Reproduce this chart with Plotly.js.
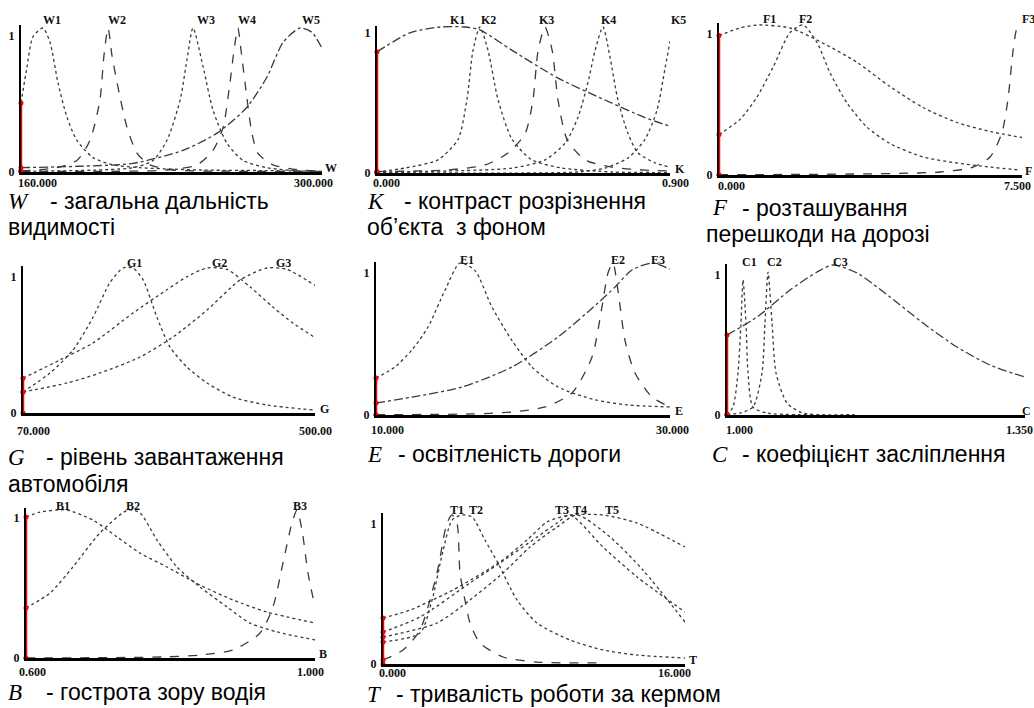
<!DOCTYPE html>
<html><head><meta charset="utf-8">
<script src="https://cdn.plot.ly/plotly-3.0.1.min.js"></script>
<style>html,body{margin:0;padding:0;background:#fff}#chart{width:1034px;height:708px}</style>
</head><body><div id="chart"></div>
<script>
// ---------- DATA ----------
// W - загальна дальність видимості
const W_names = ['W1','W2','W3','W4','W5'];
const W1_x = [160,162.8,165.6,170.2,173.5,177.2,181.4,186,193.5,202.8,215.3,243.3,271.2,300];
const W1_y = [0.48,0.73,0.94,1.0,0.90,0.62,0.38,0.22,0.10,0.05,0.03,0.014,0.01,0.005];
const W2_x = [160,176.7,186,192.1,196.7,198.6,200.5,202.3,204.7,209.3,214,220,230.7,261.9,300];
const W2_y = [0.007,0.03,0.08,0.22,0.5,0.81,1.0,0.81,0.62,0.31,0.13,0.05,0.014,0.005,0.003];
const W3_x = [160,212.1,221.4,227.9,234,237.2,240,244.7,249.3,255.8,263.3,274.4,289.8,300];
const W3_y = [0.005,0.03,0.08,0.22,0.5,0.78,1.0,0.73,0.43,0.2,0.08,0.03,0.007,0.005];
const W4_x = [160,227.9,241.9,249.3,254,257.2,259.1,260.9,262.3,264.2,267.4,270.2,277.2,289.8,300];
const W4_y = [0.005,0.014,0.05,0.15,0.31,0.62,0.85,1.0,0.85,0.62,0.27,0.13,0.05,0.014,0.007];
const W5_x = [160,187.4,212.1,235.3,251.2,265.1,274.4,281.9,289.8,295.3,300];
const W5_y = [0.03,0.04,0.06,0.15,0.27,0.45,0.66,0.9,1.0,0.97,0.86];

// K - контраст розрізнення об'єкта з фоном
const K_names = ['K1','K2','K3','K4','K5'];
const K1_x = [0,0.101,0.194,0.27,0.316,0.415,0.556,0.7,0.823,0.9];
const K1_y = [0.83,0.96,1.0,1.0,0.98,0.84,0.65,0.5,0.38,0.32];
const K2_x = [0,0.086,0.187,0.249,0.276,0.295,0.316,0.341,0.372,0.415,0.476,0.568,0.722,0.9];
const K2_y = [0.007,0.034,0.09,0.23,0.5,0.84,1.0,0.84,0.5,0.23,0.09,0.034,0.007,0.003];
const K3_x = [0,0.209,0.332,0.402,0.455,0.479,0.495,0.516,0.538,0.556,0.584,0.639,0.722,0.823,0.9];
const K3_y = [0.01,0.02,0.055,0.137,0.27,0.5,0.84,1.0,0.84,0.5,0.23,0.09,0.04,0.02,0.014];
const K4_x = [0,0.415,0.516,0.578,0.617,0.648,0.67,0.694,0.716,0.74,0.771,0.802,0.854,0.9];
const K4_y = [0.007,0.034,0.09,0.205,0.38,0.62,0.84,1.0,0.79,0.5,0.27,0.137,0.07,0.04];
const K5_x = [0,0.617,0.7,0.771,0.823,0.86,0.885,0.9,0.91];
const K5_y = [0.003,0.007,0.034,0.103,0.23,0.43,0.72,0.9,1.0];

// F - розташування перешкоди на дорозі
const F_names = ['F1','F2','F3'];
const F1_x = [0,0.52,0.94,1.76,2.57,3.42,4.23,5.05,5.89,6.71,7.5];
const F1_y = [0.93,0.98,1.0,0.98,0.88,0.75,0.59,0.45,0.35,0.29,0.25];
const F2_x = [0,0.52,0.94,1.34,1.76,2.08,2.43,2.75,3.17,3.66,4.23,5.05,5.89,6.71,7.45];
const F2_y = [0.27,0.37,0.52,0.72,0.95,1.0,0.88,0.68,0.48,0.32,0.21,0.12,0.08,0.053,0.033];
const F3_x = [0,5.47,6.29,6.71,7.0,7.15,7.28,7.38,7.5];
const F3_y = [0.002,0.02,0.053,0.12,0.28,0.5,0.83,0.98,1.0];

// G - рівень завантаження автомобіля
const G_names = ['G1','G2','G3'];
const G1_x = [70,109.8,143.6,173.1,198.1,217.3,232,246.7,267.3,286.5,311.5,341,379.2,429.3,500];
const G1_y = [0.145,0.276,0.434,0.66,0.9,1.0,1.0,0.92,0.66,0.455,0.317,0.207,0.11,0.055,0.02];
const G2_x = [70,124.5,173.1,232,282,311.5,341,370.4,404.3,438.2,467.6,500];
const G2_y = [0.24,0.366,0.483,0.69,0.85,0.94,1.0,0.99,0.87,0.73,0.62,0.52];
const G3_x = [70,134.8,183.4,242.3,290.9,341,389.6,429.3,458.8,500];
const G3_y = [0.145,0.207,0.276,0.386,0.524,0.71,0.917,1.0,0.99,0.88];

// E - освітленість дороги
const E_names = ['E1','E2','E3'];
const E1_x = [10,11.29,12.45,13.54,14.69,15.71,16.73,17.89,19.25,20.61,22.38,24.9,27.14,30];
const E1_y = [0.243,0.316,0.428,0.579,0.82,1.0,0.95,0.71,0.49,0.316,0.184,0.1,0.066,0.053];
const E2_x = [10,16.53,19.25,21.5,23.33,24.69,25.37,25.78,26.12,26.46,26.94,27.62,28.78,30];
const E2_y = [0.002,0.007,0.02,0.053,0.145,0.38,0.71,0.934,1.0,0.82,0.49,0.276,0.118,0.053];
const E3_x = [10,12.45,15.85,19.25,22.38,25.1,26.26,27.41,28.78,30];
const E3_y = [0.079,0.118,0.184,0.316,0.513,0.737,0.842,0.954,1.0,0.96];

// C - коефіцієнт засліплення
const C_names = ['C1','C2','C3'];
const C1_x = [1.0,1.007,1.0129,1.0164,1.0188,1.0223,1.0247,1.0305,1.047,1.1];
const C1_y = [0.0,0.053,0.28,0.613,0.9,0.613,0.28,0.053,0.013,0.002];
const C2_x = [1.0,1.0153,1.0305,1.0411,1.0446,1.0482,1.0529,1.0576,1.0705,1.0893,1.15];
const C2_y = [0.005,0.013,0.053,0.28,0.613,0.953,0.613,0.28,0.08,0.013,0.003];
const C3_x = [1.0,1.0352,1.074,1.1057,1.1245,1.1527,1.1914,1.2302,1.2701,1.3089,1.35];
const C3_y = [0.533,0.653,0.833,0.953,1.0,0.947,0.787,0.613,0.453,0.333,0.253];

// B - гострота зору водія
const B_names = ['B1','B2','B3'];
const B1_x = [0.6,0.6194,0.6429,0.6567,0.6927,0.7259,0.7578,0.7951,0.8408,0.8865,0.9335,1.0];
const B1_y = [0.953,0.986,1.0,1.0,0.932,0.818,0.709,0.615,0.493,0.392,0.311,0.236];
const B2_x = [0.6,0.6332,0.665,0.7024,0.7412,0.7578,0.7813,0.809,0.8408,0.8782,0.91,0.9474,1.0];
const B2_y = [0.338,0.439,0.615,0.845,1.0,0.98,0.797,0.615,0.48,0.345,0.236,0.176,0.122];
const B3_x = [0.6,0.7896,0.8408,0.8865,0.9239,0.9418,0.9557,0.9681,0.9751,0.982,0.9903,1.0];
const B3_y = [0.0,0.007,0.02,0.054,0.169,0.345,0.642,0.912,1.0,0.865,0.574,0.345];

// T - тривалість роботи за кермом
const T_names = ['T1','T2','T3','T4','T5'];
const T1_x = [0,1.06,1.96,2.86,3.39,3.66,3.92,4.08,4.34,4.61,5.14,6.36,8.16,11.5];
const T1_y = [0.027,0.094,0.228,0.611,0.946,1.0,0.946,0.611,0.43,0.275,0.141,0.047,0.013,0.007];
const T2_x = [0,1.96,2.6,3.13,3.66,4.19,4.72,5.4,6.09,7.1,8.16,9.91,11.66,13.46,16];
const T2_y = [0.148,0.208,0.43,0.732,0.966,1.0,0.987,0.832,0.678,0.43,0.275,0.161,0.094,0.06,0.04];
const T3_x = [0,1.96,4.61,6.2,8.16,9.22,9.91,11.66,13.46,16];
const T3_y = [0.215,0.315,0.544,0.678,0.852,0.946,1.0,0.785,0.584,0.349];
const T4_x = [0,2.86,4.61,6.36,7.79,9.22,10.28,12.03,13.77,16];
const T4_y = [0.181,0.275,0.43,0.611,0.785,0.919,1.0,0.852,0.631,0.282];
const T5_x = [0,1.43,3.71,6.2,7.63,8.69,9.91,11.66,13.46,16];
const T5_y = [0.309,0.362,0.497,0.685,0.832,0.953,1.0,1.0,0.946,0.785];

// axis extents and tick labels
const W_range = [160,300]; const W_ticks = ['160.000','300.000'];
const K_range = [0,0.9];   const K_ticks = ['0.000','0.900'];
const F_range = [0,7.5];   const F_ticks = ['0.000','7.500'];
const G_range = [70,500];  const G_ticks = ['70.000','500.00'];
const E_range = [10,30];   const E_ticks = ['10.000','30.000'];
const C_range = [1.0,1.35]; const C_ticks = ['1.000','1.350'];
const B_range = [0.6,1.0]; const B_ticks = ['0.600','1.000'];
const T_range = [0,16];    const T_ticks = ['0.000','16.000'];

// ---------- LAYOUT / STYLE ----------
const PW = 1034, PH = 708;
const px2x = p => p / PW, px2y = p => 1 - p / PH;
const CAP_FONT = {family:'Liberation Sans, Arial, sans-serif', size:23, color:'#000'};
const LET_FONT = {family:'Liberation Serif, Times New Roman, serif', size:23, color:'#000'};
const SMALL = {family:'Liberation Serif, serif', size:12, color:'#111'};

const panels = [
 {range:W_range, ticks:W_ticks, names:W_names, axisLetter:'W',
  curves:[[W1_x,W1_y,'dot'],[W2_x,W2_y,'dash'],[W3_x,W3_y,'dot'],[W4_x,W4_y,'dash'],[W5_x,W5_y,'dashdot']],
  labelX:[174.4,204.7,246,265.1,294.9],
  p:{x0:21,x1:322,zero:172,one:28,top:25,oneLbl:36,lblY:20,tickY:183,tickL:17,tickR:334,letX:324},
  cap:{letter:'W',lx:7,tx:49,y:201,text:'- загальна дальність',line2:'видимості',l2x:7,y2:227}},
 {range:K_range, ticks:K_ticks, names:K_names, axisLetter:'K',
  curves:[[K1_x,K1_y,'dashdot'],[K2_x,K2_y,'dot'],[K3_x,K3_y,'dash'],[K4_x,K4_y,'dot'],[K5_x,K5_y,'dot']],
  labelX:[0.246,0.344,0.522,0.71,0.925],
  p:{x0:377,x1:670,zero:173,one:27,top:26,oneLbl:33,lblY:20,tickY:183,tickL:372,tickR:690,letX:674},
  cap:{letter:'К',lx:366,tx:403,y:201,text:'- контраст розрізнення',line2:'об’єкта  з фоном',l2x:366,y2:227}},
 {range:F_range, ticks:F_ticks, names:F_names, axisLetter:'F',
  curves:[[F1_x,F1_y,'dot'],[F2_x,F2_y,'dot'],[F3_x,F3_y,'dash']],
  labelX:[1.26,2.13,7.65],
  p:{x0:719,x1:1022,zero:175,one:25,top:23,oneLbl:34,lblY:19,tickY:186,tickL:717,tickR:1032,letX:1024},
  cap:{letter:'F',lx:711,tx:741,y:208,text:'- розташування',line2:'перешкоди на дорозі',l2x:705,y2:234}},
 {range:G_range, ticks:G_ticks, names:G_names, axisLetter:'G',
  curves:[[G1_x,G1_y,'dot'],[G2_x,G2_y,'dot'],[G3_x,G3_y,'dot']],
  labelX:[234.9,360,452.9],
  p:{x0:23,x1:315,zero:413,one:268,top:266,oneLbl:277,lblY:263,tickY:431,tickL:16,tickR:333,letX:319},
  cap:{letter:'G',lx:7,tx:45,y:457,text:'- рівень завантаження',line2:'автомобіля',l2x:7,y2:484}},
 {range:E_range, ticks:E_ticks, names:E_names, axisLetter:'E',
  curves:[[E1_x,E1_y,'dot'],[E2_x,E2_y,'dash'],[E3_x,E3_y,'dashdot']],
  labelX:[16.19,26.46,29.18],
  p:{x0:376,x1:670,zero:415,one:263,top:262,oneLbl:273,lblY:260,tickY:430,tickL:370,tickR:690,letX:674},
  cap:{letter:'E',lx:366,tx:397,y:454,text:'- освітленість дороги'}},
 {range:C_range, ticks:C_ticks, names:C_names, axisLetter:'C',
  curves:[[C1_x,C1_y,'dot'],[C2_x,C2_y,'dot'],[C3_x,C3_y,'dashdot']],
  labelX:[1.027,1.056,1.133],
  p:{x0:727,x1:1025,zero:415,one:265,top:264,oneLbl:275,lblY:262,tickY:430,tickL:725,tickR:1034,letX:1021},
  cap:{letter:'C',lx:711,tx:741,y:454,text:'- коефіцієнт засліплення'}},
 {range:B_range, ticks:B_ticks, names:B_names, axisLetter:'B',
  curves:[[B1_x,B1_y,'dot'],[B2_x,B2_y,'dot'],[B3_x,B3_y,'dash']],
  labelX:[0.6512,0.748,0.979],
  p:{x0:26,x1:315,zero:658,one:510,top:508,oneLbl:518,lblY:506,tickY:672,tickL:18,tickR:325,letX:318},
  cap:{letter:'B',lx:7,tx:45,y:692,text:'- гострота зору водія'}},
 {range:T_range, ticks:T_ticks, names:T_names, axisLetter:'T',
  curves:[[T1_x,T1_y,'dash'],[T2_x,T2_y,'dot'],[T3_x,T3_y,'dot'],[T4_x,T4_y,'dot'],[T5_x,T5_y,'dot']],
  labelX:[3.92,4.93,9.48,10.44,12.13],
  p:{x0:383,x1:685,zero:664,one:515,top:513,oneLbl:524,lblY:510,tickY:673,tickL:378,tickR:692,letX:688},
  cap:{letter:'T',lx:366,tx:395,y:694,text:'- тривалість роботи за кермом'}}
];

const traces = [], annotations = [];
const layout = {width:PW, height:PH, margin:{l:0,r:0,t:0,b:0}, showlegend:false,
  paper_bgcolor:'#fff', plot_bgcolor:'rgba(0,0,0,0)', annotations};

panels.forEach((pn, i) => {
  const n = i + 1, xs = n === 1 ? '' : String(n);
  const xa = 'x' + xs, ya = 'y' + xs;
  const p = pn.p, span = p.zero - p.one;
  const dataToPaper = v => px2x(p.x0 + (v - pn.range[0]) / (pn.range[1] - pn.range[0]) * (p.x1 - p.x0));
  layout['xaxis' + xs] = {domain:[px2x(p.x0), px2x(p.x1)], range:pn.range, anchor:ya,
    showline:true, linewidth:3, linecolor:'#000', showgrid:false, zeroline:false,
    showticklabels:false, ticks:'', fixedrange:true};
  layout['yaxis' + xs] = {domain:[px2y(p.zero), px2y(p.top)], range:[0, (p.zero - p.top) / span], anchor:xa,
    showline:true, linewidth:2, linecolor:'#000', showgrid:false, zeroline:false,
    tickvals:[0, (p.zero - p.oneLbl) / span], ticktext:['<b>0</b>','<b>1</b>'], ticks:'',
    ticklabelstandoff:2, tickfont:SMALL, fixedrange:true};
  pn.curves.forEach(c => {
    traces.push({x:c[0], y:c[1], xaxis:xa, yaxis:ya, type:'scatter', mode:'lines',
      line:{color:'#3a3a3a', width:1.3, dash:c[2], shape:'spline', smoothing:0.7}, hoverinfo:'skip'});
  });
  const starts = pn.curves.map(c => c[1][0]);
  const sy = [0].concat(starts.slice().sort((a, b) => a - b));
  traces.push({x:sy.map(() => pn.range[0]), y:sy, xaxis:xa, yaxis:ya, type:'scatter', mode:'lines+markers',
    line:{color:'#ff0000', width:2.5}, marker:{color:'#ff0000', size:5}, cliponaxis:false, hoverinfo:'skip'});
  pn.names.forEach((nm, k) => annotations.push({x:dataToPaper(pn.labelX[k]), xref:'paper', y:px2y(p.lblY), yref:'paper',
    text:'<b>' + nm + '</b>', showarrow:false, font:SMALL, xanchor:'center', yanchor:'middle'}));
  annotations.push({x:px2x(p.tickL), xref:'paper', y:px2y(p.tickY), yref:'paper', text:'<b>' + pn.ticks[0] + '</b>',
    showarrow:false, font:SMALL, xanchor:'left', yanchor:'middle', borderpad:0});
  annotations.push({x:px2x(p.tickR), xref:'paper', y:px2y(p.tickY), yref:'paper', text:'<b>' + pn.ticks[1] + '</b>',
    showarrow:false, font:SMALL, xanchor:'right', yanchor:'middle', borderpad:0});
  annotations.push({x:px2x(p.letX), xref:'paper', y:px2y(p.zero - 4), yref:'paper', text:'<b>' + pn.axisLetter + '</b>',
    showarrow:false, font:SMALL, xanchor:'left', yanchor:'middle', borderpad:0});
  const c = pn.cap;
  annotations.push({x:px2x(c.lx), xref:'paper', y:px2y(c.y), yref:'paper', text:'<i>' + c.letter + '</i>',
    showarrow:false, font:LET_FONT, xanchor:'left', yanchor:'middle', borderpad:0});
  annotations.push({x:px2x(c.tx), xref:'paper', y:px2y(c.y), yref:'paper', text:c.text,
    showarrow:false, font:CAP_FONT, xanchor:'left', yanchor:'middle', borderpad:0});
  if (c.line2) annotations.push({x:px2x(c.l2x), xref:'paper', y:px2y(c.y2), yref:'paper', text:c.line2,
    showarrow:false, font:CAP_FONT, xanchor:'left', yanchor:'middle', borderpad:0});
});

Plotly.newPlot('chart', traces, layout, {staticPlot:true, displayModeBar:false});
</script>
</body></html>
